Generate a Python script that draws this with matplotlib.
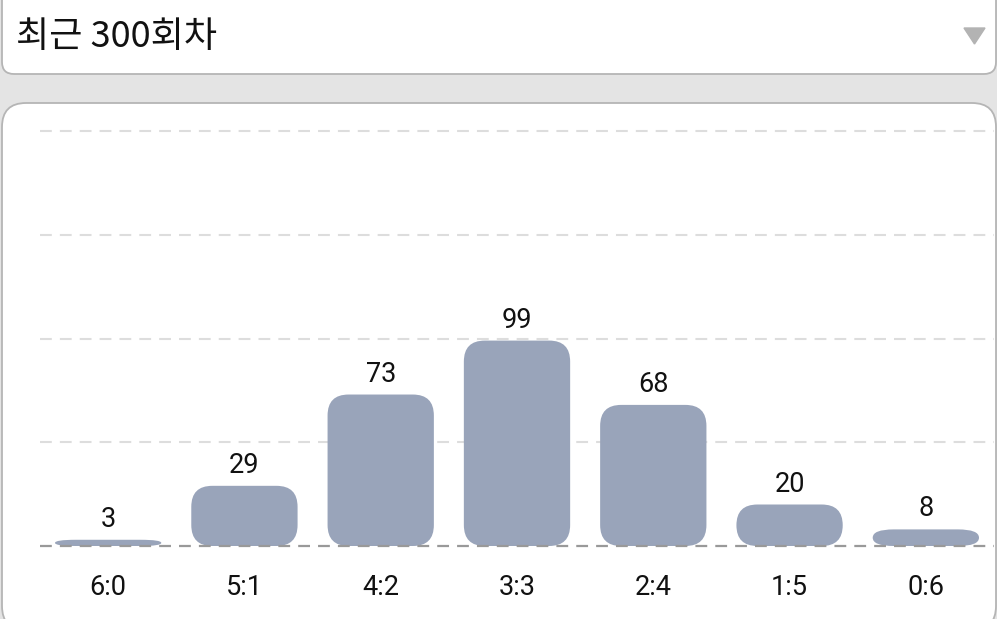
import matplotlib
matplotlib.use('Agg')
import matplotlib.pyplot as plt
from matplotlib.patches import FancyBboxPatch, Polygon
import numpy as np

plt.rcParams['font.family'] = ['Roboto', 'Noto Sans CJK KR', 'DejaVu Sans']
plt.rcParams['lines.scale_dashes'] = False

# 데이터
ratios = ['6:0', '5:1', '4:2', '3:3', '2:4', '1:5', '0:6']
counts = [3, 29, 73, 99, 68, 20, 8]
title = '최근 300회차'
grid_vals = [50, 100, 150, 200]

bar_color = '#99a4ba'
W, H = 997, 619

fig = plt.figure(figsize=(W / 100, H / 100), dpi=100)
fig.patch.set_facecolor('#e4e4e4')

# 배경 (드롭다운 + 카드)
bg = fig.add_axes([0, 0, 1, 1], zorder=0)
bg.set_xlim(0, W)
bg.set_ylim(H, 0)
bg.axis('off')
bg.add_patch(FancyBboxPatch((2, -40), 994, 114, boxstyle='round,pad=0,rounding_size=12',
                            facecolor='white', edgecolor='#b5b5b5', linewidth=1.3))
bg.add_patch(FancyBboxPatch((2, 103), 994, 527, boxstyle='round,pad=0,rounding_size=24',
                            facecolor='white', edgecolor='#b5b5b5', linewidth=1.3))
bg.add_patch(Polygon([[964, 28], [985, 28], [974.5, 44]], closed=True, color='#b3b3b3'))
bg.text(16, 37, title, fontsize=26, va='center', ha='left', color='#111111',
        family=['Noto Sans CJK KR', 'DejaVu Sans'])

# 차트
ax = fig.add_axes([40 / W, (H - 546) / H, 954 / W, 415 / H], zorder=1)
ax.patch.set_alpha(0)
ax.set_xlim(-0.5, 6.5)
ax.set_ylim(0, 200)
for s in ax.spines.values():
    s.set_visible(False)

x = np.arange(len(ratios))
bars = ax.bar(x, counts, width=0.78, color=bar_color)

px_x = ax.transData.transform((1, 0))[0] - ax.transData.transform((0, 0))[0]
px_y = ax.transData.transform((0, 1))[1] - ax.transData.transform((0, 0))[1]
for b in bars:
    rx = 21
    ry = min(21, b.get_height() * px_y / 2)
    r = rx / px_x
    asp = (ry / px_y) / r
    ax.add_patch(FancyBboxPatch((b.get_x(), 0), b.get_width(), b.get_height(),
                                boxstyle=f'round,pad=0,rounding_size={r}',
                                mutation_aspect=asp, facecolor=bar_color,
                                edgecolor='none', clip_on=False, zorder=2))
    b.remove()

for xx, yy in zip(x, counts):
    ax.annotate(str(yy), (xx, yy), xytext=(0, 5), textcoords='offset points',
                ha='center', va='bottom', fontsize=19.5, color='#111111')

for g in grid_vals:
    ax.axhline(g, color='#dddddd', linewidth=1.5, linestyle=(0, (8.5, 5.8)), zorder=1, clip_on=False)
ax.axhline(0, color='#999999', linewidth=1.6, linestyle=(0, (8.5, 5.8)), zorder=3, clip_on=False)

ax.set_yticks([])
ax.set_xticks(x)
ax.set_xticklabels(ratios, fontsize=19.5, color='#111111')
ax.tick_params(axis='x', length=0, pad=20)

fig.savefig('out.png', dpi=100, facecolor=fig.get_facecolor())
